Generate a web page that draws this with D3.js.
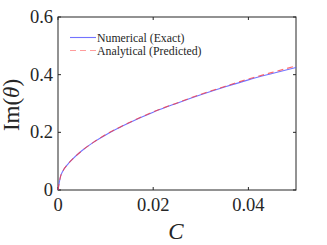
<!DOCTYPE html>
<html>
<head>
<meta charset="utf-8">
<script src="https://cdn.jsdelivr.net/npm/d3@7"></script>
<style>
  body { margin: 0; background: #fff; }
  svg { display: block; }
  text { font-family: "Liberation Serif", "DejaVu Serif", serif; fill: #262626; }
</style>
</head>
<body>
<svg id="chart" width="327" height="245"></svg>
<script>
// values
var cValues     = [0, 0.0005, 0.001, 0.002, 0.003, 0.005, 0.0075, 0.01, 0.0125, 0.015, 0.0175, 0.02, 0.025, 0.03, 0.035, 0.04, 0.045, 0.05];
var exactValues = [0, 0.045, 0.065, 0.088, 0.106, 0.136, 0.166, 0.191, 0.213, 0.233, 0.252, 0.270, 0.301, 0.330, 0.357, 0.382, 0.404, 0.425];
var predValues  = [0, 0.045, 0.065, 0.088, 0.106, 0.136, 0.166, 0.192, 0.214, 0.234, 0.253, 0.271, 0.302, 0.332, 0.359, 0.385, 0.408, 0.430];
var xTicks = [0, 0.02, 0.04];
var yTicks = [0, 0.2, 0.4, 0.6];
var seriesNames = ["Numerical (Exact)", "Analytical (Predicted)"];

var svg = d3.select("#chart");
// plot box (window.top is reserved, so use a prefix)
var pLeft = 58, pRight = 296, pTop = 17, pBottom = 190;

var x = d3.scaleLinear().domain([0, 0.05]).range([pLeft, pRight]);
var y = d3.scaleLinear().domain([0, 0.6]).range([pBottom, pTop]);

var axisColor = "#262626";
var tickLen = 3;

// box frame
svg.append("rect")
    .attr("x", pLeft).attr("y", pTop)
    .attr("width", pRight - pLeft).attr("height", pBottom - pTop)
    .attr("fill", "none").attr("stroke", axisColor).attr("stroke-width", 1);

// ticks on all four sides, pointing inward
var fmt = function (d) { return d === 0 ? "0" : d3.format("")(d); };
xTicks.forEach(function (t) {
    svg.append("line").attr("x1", x(t)).attr("x2", x(t)).attr("y1", pBottom).attr("y2", pBottom - tickLen)
        .attr("stroke", axisColor);
    svg.append("line").attr("x1", x(t)).attr("x2", x(t)).attr("y1", pTop).attr("y2", pTop + tickLen)
        .attr("stroke", axisColor);
    svg.append("text").attr("x", x(t)).attr("y", 211)
        .attr("text-anchor", "middle").attr("font-size", 18.5).text(fmt(t));
});
yTicks.forEach(function (t) {
    svg.append("line").attr("x1", pLeft).attr("x2", pLeft + tickLen).attr("y1", y(t)).attr("y2", y(t))
        .attr("stroke", axisColor);
    svg.append("line").attr("x1", pRight).attr("x2", pRight - tickLen).attr("y1", y(t)).attr("y2", y(t))
        .attr("stroke", axisColor);
    svg.append("text").attr("x", 53).attr("y", y(t) + 6)
        .attr("text-anchor", "end").attr("font-size", 18.5).text(fmt(t));
});

// axis labels
svg.append("text").attr("x", x(0.025) - 1).attr("y", 239)
    .attr("text-anchor", "middle").attr("font-size", 23).attr("font-style", "italic").text("C");
svg.append("text")
    .attr("transform", "translate(19,105) rotate(-90)")
    .attr("text-anchor", "middle").attr("font-size", 23)
    .html('Im(<tspan font-style="italic">θ</tspan>)');

// curves
var exactData = cValues.map(function (c, i) { return [c, exactValues[i]]; });
var predData = cValues.map(function (c, i) { return [c, predValues[i]]; });
var line = d3.line().x(function (d) { return x(d[0]); }).y(function (d) { return y(d[1]); })
    .curve(d3.curveMonotoneX);

svg.append("path").datum(exactData).attr("d", line)
    .attr("fill", "none").attr("stroke", "#5a5aff").attr("stroke-width", 1.1).attr("stroke-opacity", 0.85);
svg.append("path").datum(predData).attr("d", line)
    .attr("fill", "none").attr("stroke", "#ff3a3a").attr("stroke-width", 1.1).attr("stroke-opacity", 0.75)
    .attr("stroke-dasharray", "6,4");

// legend
var legend = svg.append("g");
var legendRows = [
    { name: seriesNames[0], color: "#5a5aff", opacity: 0.85, dash: null, y: 37.5 },
    { name: seriesNames[1], color: "#ff3a3a", opacity: 0.5, dash: "6,4", y: 50.5 }
];
legendRows.forEach(function (r) {
    legend.append("line").attr("x1", 70).attr("x2", 96).attr("y1", r.y).attr("y2", r.y)
        .attr("stroke", r.color).attr("stroke-width", 1.1).attr("stroke-opacity", r.opacity)
        .attr("stroke-dasharray", r.dash);
    legend.append("text").attr("x", 97).attr("y", r.y + 4)
        .attr("font-size", 11.8).text(r.name);
});
</script>
</body>
</html>
